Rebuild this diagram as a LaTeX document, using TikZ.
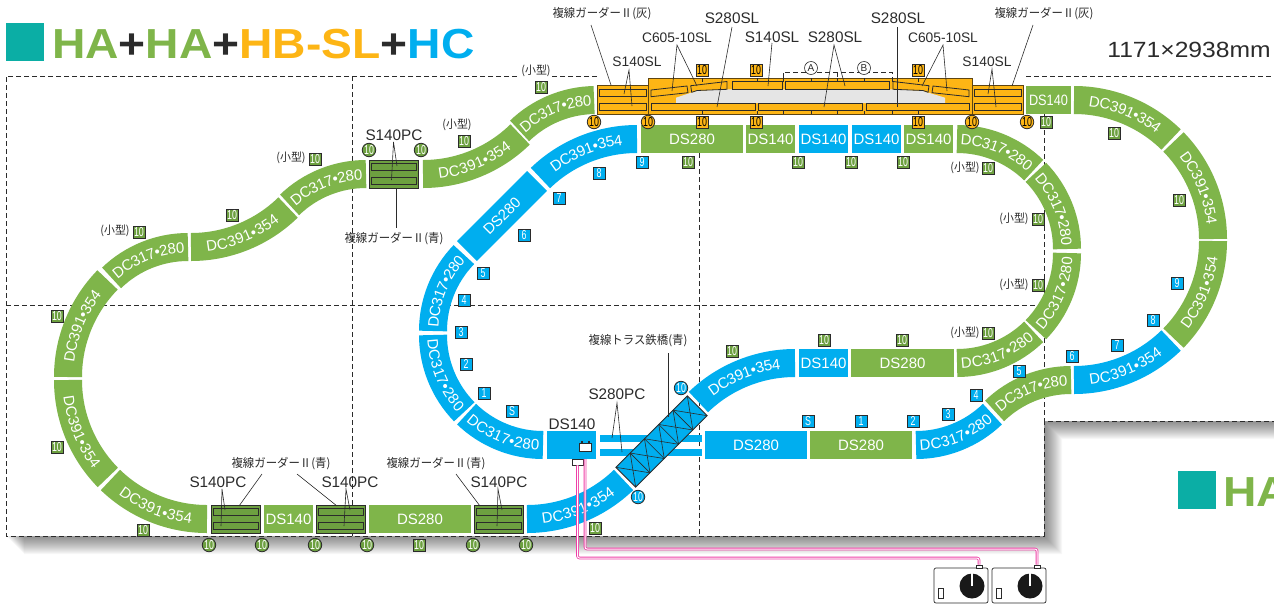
\documentclass[tikz,border=0pt]{standalone}
\usepackage{fontspec}
\setmainfont{Liberation Sans}
\newfontfamily\sizefamily[FakeStretch=1.12]{Liberation Sans}
\newfontfamily\badgefamily[FakeStretch=.68]{Liberation Sans}
\newfontfamily\titlefamily[FakeStretch=1.1]{Liberation Sans}
\newfontfamily\jpfamily[FakeStretch=.95]{Noto Sans CJK JP}
\usetikzlibrary{decorations.text}

\definecolor{trackgreen}{HTML}{7FB54A}
\definecolor{girdergreen}{HTML}{6DA040}
\definecolor{trackblue}{HTML}{00AEEF}
\definecolor{slorange}{HTML}{FDB515}
\definecolor{slbrown}{HTML}{5E4512}
\definecolor{teal}{HTML}{0BAEA5}
\definecolor{wirepink}{HTML}{EE3FA6}
\definecolor{inkgray}{HTML}{2B2B2B}

\newcommand{\trackfont}{\fontsize{15}{15}\selectfont}
\newcommand{\labfont}{\fontsize{15.3}{15.3}\selectfont}
\newcommand{\labsfont}{\fontsize{13.8}{13.8}\selectfont}
\newcommand{\badgefont}{\badgefamily\fontsize{13}{13}\selectfont}
\newcommand{\jpfont}{\jpfamily\fontsize{12}{12}\selectfont}
\newcommand{\titlefont}{\titlefamily\bfseries\fontsize{42}{42}\selectfont}

\tikzstyle{track} = [inner sep=0pt,minimum height=28pt,text=white,font=\trackfont]
\tikzstyle{gtrack} = [track,fill=trackgreen]
\tikzstyle{btrack} = [track,fill=trackblue]
\tikzstyle{pcbox} = [draw=inkgray,line width=.9pt,fill=girdergreen,inner sep=0pt,minimum width=49pt,minimum height=28pt]
\tikzstyle{pcdeck} = [draw=inkgray,line width=.8pt,fill=girdergreen,inner sep=0pt,minimum width=45pt,minimum height=7.5pt]
\tikzstyle{slbox} = [draw=slbrown,line width=.9pt,fill=slorange,inner sep=0pt]
\tikzstyle{sldeck} = [draw=inkgray,line width=.8pt,fill=slorange,inner sep=0pt,minimum height=7.5pt]
\tikzstyle{sqbadge} = [draw=inkgray,line width=.8pt,inner sep=0pt,minimum size=12pt,text=white,font=\badgefont]
\tikzstyle{gsq} = [sqbadge,fill=girdergreen]
\tikzstyle{bsq} = [sqbadge,fill=trackblue]
\tikzstyle{osq} = [sqbadge,fill=slorange,text=black]
\tikzstyle{cirbadge} = [circle,draw=inkgray,line width=.8pt,inner sep=0pt,minimum size=13.5pt,text=white,font=\badgefont]
\tikzstyle{gcir} = [cirbadge,fill=girdergreen]
\tikzstyle{bcir} = [cirbadge,fill=trackblue]
\tikzstyle{ocir} = [cirbadge,fill=slorange,text=black]
\tikzstyle{lab} = [inner sep=0pt,text=inkgray,font=\labfont]
\tikzstyle{labs} = [inner sep=0pt,text=inkgray,font=\labsfont]
\tikzstyle{jplab} = [inner sep=0pt,text=inkgray,font=\jpfont]
\tikzstyle{small} = [inner sep=1pt,fill=white,text=inkgray,font=\jpfamily\fontsize{11.5}{11.5}\selectfont]
\tikzstyle{leader} = [draw=inkgray,line width=.6pt]
\tikzstyle{board} = [draw=inkgray,line width=.9pt,dash pattern=on 5pt off 3pt]
\tikzstyle{wire} = [draw=wirepink,line width=.8pt,double=white,double distance=1pt,rounded corners=2pt]
\tikzstyle{thinbox} = [draw=inkgray,line width=.7pt,fill=white,inner sep=0pt]

\newcommand{\curvetrack}[7]{
	\draw[#1,line width=28pt] ([shift={(#5:#4)}]#2,#3) arc[start angle=#5,end angle=#6,radius=#4];
	\path[decorate,decoration={text along path,text={|\trackfont|#7},text align=center,raise=-5.5pt,text color=white}] ([shift={(#5:#4)}]#2,#3) arc[start angle=#5,end angle=#6,radius=#4];
}

\begin{document}
\begin{tikzpicture}[x=1pt,y=1pt]
	\useasboundingbox (0,0) rectangle (1274,-606);

	\foreach \s in {1,...,18}
		\fill[black,opacity=.032] (6+\s,-76-\s) -- (1300,-76-\s) -- (1300,-421-\s) -- (1044+\s,-421-\s) -- (1044+\s,-536-\s) -- (6+\s,-536-\s) -- cycle;
	\fill[white] (6,-76) -- (1300,-76) -- (1300,-421) -- (1044,-421) -- (1044,-536) -- (6,-536) -- cycle;

	\draw[board] (597,-76) -- (6,-76) -- (6,-536) -- (1044,-536) -- (1044,-421) -- (1274,-421);
	\draw[board] (1026,-76) -- (1274,-76);
	\draw[board] (352,-76) -- (352,-536);
	\draw[board] (699,-153) -- (699,-536);
	\draw[board] (1044,-114) -- (1044,-421);
	\draw[board] (6,-305) -- (1044,-305);

	\node[fill=teal,minimum size=38pt,inner sep=0pt] (sq1) at (25,-42) {};
	\node[anchor=base west,inner sep=0pt,font=\titlefont,text=trackgreen] (title1) at (52,-58) {HA\textcolor{inkgray}{+}HA\textcolor{inkgray}{+}\textcolor{slorange}{HB-SL}\textcolor{inkgray}{+}\textcolor{trackblue}{HC}};
	\node[lab,font=\sizefamily\fontsize{22}{22}\selectfont] (size) at (1189,-50) {1171×2938mm};
	\node[fill=teal,minimum size=38pt,inner sep=0pt] (sq2) at (1197,-490) {};
	\node[anchor=base west,inner sep=0pt,font=\titlefont,text=trackgreen] (title2) at (1223,-506) {HA};

	\curvetrack{trackgreen}{1074}{-239}{139}{90}{45.7}{DC391•354}
	\curvetrack{trackgreen}{1074}{-239}{139}{44.3}{0}{DC391•354}
	\curvetrack{trackgreen}{1074}{-241}{139}{-44.3}{0}{DC391•354}
	\curvetrack{trackblue}{1074}{-241}{139}{-90}{-45.7}{DC391•354}
	\curvetrack{trackgreen}{957}{-249}{110}{90}{45.8}{DC317•280}
	\curvetrack{trackgreen}{957}{-249}{110}{44.2}{0}{DC317•280}
	\curvetrack{trackgreen}{957}{-253}{110}{-44.2}{0}{DC317•280}
	\curvetrack{trackgreen}{957}{-253}{110}{-90}{-45.8}{DC317•280}
	\curvetrack{trackblue}{795}{-502}{139}{134}{90}{DC391•354}
	\curvetrack{trackblue}{527}{-380}{139}{-90}{-46}{DC391•354}
	\curvetrack{trackgreen}{207}{-380}{139}{226}{270}{DC391•354}
	\curvetrack{trackgreen}{207}{-380}{139}{180}{224.5}{DC391•354}
	\curvetrack{trackgreen}{207}{-377}{139}{180}{135.7}{DC391•354}
	\curvetrack{trackgreen}{188}{-357}{110}{134}{90}{DC317•280}
	\curvetrack{trackgreen}{191}{-108}{139}{-90}{-45.7}{DC391•354}
	\curvetrack{trackgreen}{366}{-284}{110}{134}{90}{DC317•280}
	\curvetrack{trackgreen}{423}{-35}{139}{-90}{-45.7}{DC391•354}
	\curvetrack{trackgreen}{596}{-210}{110}{134}{91}{DC317•280}
	\curvetrack{trackblue}{543}{-335}{110}{226}{270}{DC317•280}
	\curvetrack{trackblue}{543}{-335}{110}{180}{224.3}{DC317•280}
	\curvetrack{trackblue}{543}{-331}{110}{180}{136}{DC317•280}
	\curvetrack{trackblue}{637}{-278}{139}{134}{90}{DC391•354}
	\curvetrack{trackblue}{916}{-335}{110}{-90}{-46}{DC317•280}
	\curvetrack{trackgreen}{1071}{-490}{110}{134}{90}{DC317•280}

	\node[btrack,minimum width=99pt,rotate=45] (b6) at (502,-216) {DS280};
	\node[gtrack,minimum width=53pt,xscale=.85] (t1) at (1048.5,-100) {DS140};
	\node[gtrack,minimum width=102pt] (t2) at (692,-139) {DS280};
	\node[gtrack,minimum width=49pt] (t3) at (770.5,-139) {DS140};
	\node[btrack,minimum width=49pt] (t4) at (823.5,-139) {DS140};
	\node[btrack,minimum width=49pt] (t5) at (876.5,-139) {DS140};
	\node[gtrack,minimum width=49pt] (t6) at (928.5,-139) {DS140};
	\node[btrack,minimum width=49pt] (t7) at (823.5,-363) {DS140};
	\node[gtrack,minimum width=103pt] (t8) at (902.5,-363) {DS280};
	\node[btrack,minimum width=49pt] (t9) at (571.5,-445) {};
	\node[btrack,minimum width=102pt] (t10) at (756,-445) {DS280};
	\node[gtrack,minimum width=102pt] (t11) at (861,-445) {DS280};
	\node[gtrack,minimum width=49pt] (t12) at (288.5,-519) {DS140};
	\node[gtrack,minimum width=102pt] (t13) at (420,-519) {DS280};
	\node[lab] (ds) at (572,-424) {DS140};

	\node[pcbox] (g1) at (236,-519) {};
	\node[pcdeck] (g1a) at (236,-512) {};
	\node[pcdeck] (g1b) at (236,-526) {};
	\node[pcbox] (g2) at (341,-519) {};
	\node[pcdeck] (g2a) at (341,-512) {};
	\node[pcdeck] (g2b) at (341,-526) {};
	\node[pcbox] (g3) at (498.5,-519) {};
	\node[pcdeck] (g3a) at (498.5,-512) {};
	\node[pcdeck] (g3b) at (498.5,-526) {};
	\node[pcbox] (g4) at (394,-174) {};
	\node[pcdeck] (g4a) at (394,-167) {};
	\node[pcdeck] (g4b) at (394,-181) {};

	\node[fill=trackblue,inner sep=0pt,minimum width=102pt,minimum height=7pt] (p1) at (651,-438.5) {};
	\node[fill=trackblue,inner sep=0pt,minimum width=102pt,minimum height=7pt] (p2) at (651,-452.5) {};
	\node[draw=inkgray,line width=.9pt,fill=trackblue,inner sep=0pt,minimum width=101pt,minimum height=28pt,rotate=45] (truss) at (661.5,-441.5) {};
	\begin{scope}[shift={(661.5,-441.5)},rotate=45,draw=inkgray,line width=.6pt]
		\draw (-30.3,-14) -- (-30.3,14);
		\draw (-10.1,-14) -- (-10.1,14);
		\draw (10.1,-14) -- (10.1,14);
		\draw (30.3,-14) -- (30.3,14);
		\draw (-50.5,-14) -- (-30.3,14);
		\draw (-50.5,14) -- (-30.3,-14);
		\draw (-30.3,-14) -- (-10.1,14);
		\draw (-30.3,14) -- (-10.1,-14);
		\draw (-10.1,-14) -- (10.1,14);
		\draw (-10.1,14) -- (10.1,-14);
		\draw (10.1,-14) -- (30.3,14);
		\draw (10.1,14) -- (30.3,-14);
		\draw (30.3,-14) -- (50.5,14);
		\draw (30.3,14) -- (50.5,-14);
	\end{scope}

	\node[slbox,minimum width=51pt,minimum height=29pt] (s1) at (622.5,-99.5) {};
	\node[slbox,minimum width=51pt,minimum height=29pt] (s3) at (997.5,-99.5) {};
	\node[slbox,minimum width=324pt,minimum height=36pt] (s2) at (810,-96) {};
	\fill[black!10] (676,-103) -- (676,-97.7) -- (697,-90.7) -- (727,-89.3) -- (892,-89.3) -- (922,-90.7) -- (945,-97.7) -- (945,-103) -- cycle;
	\node[sldeck,minimum width=47pt] (d1) at (622.5,-93) {};
	\node[sldeck,minimum width=47pt] (d2) at (622.5,-107) {};
	\node[sldeck,minimum width=47pt] (d3) at (997.5,-93) {};
	\node[sldeck,minimum width=47pt] (d4) at (997.5,-107) {};
	\node[sldeck,minimum width=104pt] (d5) at (703,-107) {};
	\node[sldeck,minimum width=104pt] (d6) at (810,-107) {};
	\node[sldeck,minimum width=103pt] (d7) at (917.5,-107) {};
	\node[sldeck,minimum width=50pt] (d8) at (757,-85.5) {};
	\node[sldeck,minimum width=104pt] (d9) at (837,-85.5) {};
	\draw[sldeck] (651,-90) -- (687,-86) -- (688,-92.7) -- (651,-96.7) -- cycle;
	\draw[sldeck] (690.7,-85.7) -- (727,-81.5) -- (727,-89.3) -- (697,-90.5) -- (691.7,-92.3) -- cycle;
	\draw[sldeck] (893,-81.5) -- (929,-85.7) -- (928,-92.3) -- (923,-90.5) -- (893,-89.3) -- cycle;
	\draw[sldeck] (933,-86) -- (969,-90) -- (969,-96.7) -- (932,-92.7) -- cycle;
	\draw[inkgray,line width=.7pt] (702,-78) -- (702,-82) (757,-78) -- (757,-82) (783,-78) -- (783,-82) (811,-78) -- (811,-82) (837,-78) -- (837,-82) (864,-78) -- (864,-82) (892,-78) -- (892,-82) (918,-78) -- (918,-82);
	\draw[inkgray,line width=.7pt] (702,-111) -- (702,-114) (757,-111) -- (757,-114) (783,-111) -- (783,-114) (811,-111) -- (811,-114) (837,-111) -- (837,-114) (864,-111) -- (864,-114) (892,-111) -- (892,-114) (918,-111) -- (918,-114);

	\draw[board,line width=.8pt] (783,-78) -- (783,-72) -- (892,-72) -- (892,-78);
	\draw[board,line width=.8pt] (837,-72) -- (837,-78);
	\node[circle,draw=inkgray,line width=.6pt,fill=white,inner sep=0pt,minimum size=13pt,text=inkgray,font=\fontsize{10}{10}\selectfont] (secA) at (811,-68) {A};
	\node[circle,draw=inkgray,line width=.6pt,fill=white,inner sep=0pt,minimum size=13pt,text=inkgray,font=\fontsize{10}{10}\selectfont] (secB) at (864,-68) {B};

	\node[jplab] (gra) at (602,-14) {複線ガーダーⅡ(灰)};
	\node[jplab] (grb) at (1044,-14) {複線ガーダーⅡ(灰)};
	\node[labs] (sl1) at (637,-62) {S140SL};
	\node[lab] (sl2) at (732,-18) {S280SL};
	\node[labs] (sl3) at (677,-38) {C605-10SL};
	\node[lab] (sl4) at (772,-37) {S140SL};
	\node[lab] (sl5) at (835,-37) {S280SL};
	\node[lab] (sl6) at (898,-18) {S280SL};
	\node[labs] (sl7) at (943,-38) {C605-10SL};
	\node[labs] (sl8) at (987,-62) {S140SL};
	\coordinate (gra1) at (591,-25);
	\coordinate (gra2) at (611,-85);
	\coordinate (grb1) at (1033,-25);
	\coordinate (grb2) at (1012,-86);
	\coordinate (sl1t) at (629,-70);
	\coordinate (sl1a) at (624,-94);
	\coordinate (sl1b) at (632,-106);
	\coordinate (sl2t) at (732,-27);
	\coordinate (sl2b) at (717,-107);
	\coordinate (sl3t) at (677,-45);
	\coordinate (sl3a) at (672,-91);
	\coordinate (sl3b) at (697,-86);
	\coordinate (sl4t) at (772,-43);
	\coordinate (sl4b) at (768,-86);
	\coordinate (sl5t) at (834,-45);
	\coordinate (sl5a) at (824,-107);
	\coordinate (sl5b) at (845,-86);
	\coordinate (sl6t) at (897,-27);
	\coordinate (sl6b) at (897,-107);
	\coordinate (sl7t) at (943,-45);
	\coordinate (sl7a) at (922,-86);
	\coordinate (sl7b) at (947,-91);
	\coordinate (sl8t) at (992,-69);
	\coordinate (sl8a) at (988,-94);
	\coordinate (sl8b) at (996,-107);
	\draw[leader] (gra1) -- (gra2);
	\draw[leader] (grb1) -- (grb2);
	\draw[leader] (sl1a) -- (sl1t) -- (sl1b);
	\draw[leader] (sl2t) -- (sl2b);
	\draw[leader] (sl3a) -- (sl3t) -- (sl3b);
	\draw[leader] (sl4t) -- (sl4b);
	\draw[leader] (sl5a) -- (sl5t) -- (sl5b);
	\draw[leader] (sl6t) -- (sl6b);
	\draw[leader] (sl7a) -- (sl7t) -- (sl7b);
	\draw[leader] (sl8a) -- (sl8t) -- (sl8b);

	\node[lab] (pc1) at (394,-135) {S140PC};
	\node[jplab] (grc) at (394,-239) {複線ガーダーⅡ(青)};
	\node[lab] (pc2) at (218,-482) {S140PC};
	\node[lab] (pc3) at (350,-482) {S140PC};
	\node[lab] (pc4) at (499,-482) {S140PC};
	\node[jplab] (grd) at (281,-464) {複線ガーダーⅡ(青)};
	\node[jplab] (gre) at (436,-464) {複線ガーダーⅡ(青)};
	\node[lab] (pc5) at (617,-394) {S280PC};
	\node[jplab] (trs) at (638,-341) {複線トラス鉄橋(青)};
	\coordinate (pc1t) at (393.5,-142);
	\coordinate (pc1a) at (397,-166);
	\coordinate (pc1b) at (391.5,-180);
	\coordinate (grc1) at (396,-188);
	\coordinate (grc2) at (396,-228);
	\coordinate (pc2t) at (222,-489);
	\coordinate (pc2a) at (225,-510);
	\coordinate (pc2b) at (221,-526);
	\coordinate (pc3t) at (346,-489);
	\coordinate (pc3a) at (350,-510);
	\coordinate (pc3b) at (344,-526);
	\coordinate (pc4t) at (498,-489);
	\coordinate (pc4a) at (502,-510);
	\coordinate (pc4b) at (497,-526);
	\coordinate (grd1) at (262,-474);
	\coordinate (grd2) at (239,-506);
	\coordinate (grd3) at (297,-474);
	\coordinate (grd4) at (337,-506);
	\coordinate (gre1) at (456,-474);
	\coordinate (gre2) at (480,-506);
	\coordinate (pc5t) at (617,-403);
	\coordinate (pc5a) at (612,-438);
	\coordinate (pc5b) at (622,-452);
	\coordinate (trs1) at (668,-353);
	\coordinate (trs2) at (668,-417);
	\draw[leader] (pc1a) -- (pc1t) -- (pc1b);
	\draw[leader] (grc1) -- (grc2);
	\draw[leader] (pc2a) -- (pc2t) -- (pc2b);
	\draw[leader] (pc3a) -- (pc3t) -- (pc3b);
	\draw[leader] (pc4a) -- (pc4t) -- (pc4b);
	\draw[leader] (grd1) -- (grd2);
	\draw[leader] (grd3) -- (grd4);
	\draw[leader] (gre1) -- (gre2);
	\draw[leader] (pc5a) -- (pc5t) -- (pc5b);
	\draw[leader] (trs1) -- (trs2);

	\node[small] (k1) at (291,-158) {(小型)};
	\node[small] (k2) at (115,-231) {(小型)};
	\node[small] (k3) at (457,-125) {(小型)};
	\node[small] (k4) at (536,-71) {(小型)};
	\node[small] (k5) at (965,-168) {(小型)};
	\node[small] (k6) at (1014,-219) {(小型)};
	\node[small] (k7) at (1014,-285) {(小型)};
	\node[small] (k8) at (965,-333) {(小型)};

	\node[gsq] (n1) at (315,-159) {10};
	\node[gsq] (n2) at (232,-215) {10};
	\node[gsq] (n3) at (139,-232) {10};
	\node[gsq] (n4) at (57,-316) {10};
	\node[gsq] (n5) at (57,-447) {10};
	\node[gsq] (n6) at (143,-530) {10};
	\node[gsq] (n7) at (419,-545) {10};
	\node[gsq] (n8) at (595,-528) {10};
	\node[gsq] (n9) at (732,-351) {10};
	\node[gsq] (n10) at (824,-340) {10};
	\node[gsq] (n11) at (902,-340) {10};
	\node[gsq] (n12) at (988,-333) {10};
	\node[gsq] (n13) at (464,-141) {10};
	\node[gsq] (n14) at (541,-87) {10};
	\node[gsq] (n15) at (688,-162) {10};
	\node[gsq] (n16) at (798,-162) {10};
	\node[gsq] (n17) at (851,-162) {10};
	\node[gsq] (n18) at (903,-162) {10};
	\node[gsq] (n19) at (988,-168) {10};
	\node[gsq] (n20) at (1046,-122) {10};
	\node[gsq] (n21) at (1114,-133) {10};
	\node[gsq] (n22) at (1179,-200) {10};
	\node[gsq] (n23) at (1038,-219) {10};
	\node[gsq] (n24) at (1038,-285) {10};

	\node[bsq] (m1) at (512,-411) {S};
	\node[bsq] (m2) at (484,-393) {1};
	\node[bsq] (m3) at (466,-364) {2};
	\node[bsq] (m4) at (461,-332) {3};
	\node[bsq] (m5) at (464,-300) {4};
	\node[bsq] (m6) at (483,-273) {5};
	\node[bsq] (m7) at (524,-235) {6};
	\node[bsq] (m8) at (559,-198) {7};
	\node[bsq] (m9) at (599,-173) {8};
	\node[bsq] (m10) at (642,-162) {9};
	\node[bsq] (m11) at (808,-421) {S};
	\node[bsq] (m12) at (861,-421) {1};
	\node[bsq] (m13) at (913,-421) {2};
	\node[bsq] (m14) at (948,-414) {3};
	\node[bsq] (m15) at (976,-395) {4};
	\node[bsq] (m16) at (1019,-371) {5};
	\node[bsq] (m17) at (1072,-356) {6};
	\node[bsq] (m18) at (1117,-345) {7};
	\node[bsq] (m19) at (1153,-320) {8};
	\node[bsq] (m20) at (1177,-283) {9};

	\node[osq] (o1) at (702,-70) {10};
	\node[osq] (o2) at (756,-70) {10};
	\node[osq] (o3) at (918,-70) {10};
	\node[osq] (o4) at (702,-122) {10};
	\node[osq] (o5) at (756,-122) {10};
	\node[osq] (o6) at (918,-122) {10};
	\node[ocir] (c1) at (594,-122) {10};
	\node[ocir] (c2) at (648,-122) {10};
	\node[ocir] (c3) at (972,-122) {10};
	\node[ocir] (c4) at (1027,-122) {10};

	\node[gcir] (c5) at (209,-545) {10};
	\node[gcir] (c6) at (262,-545) {10};
	\node[gcir] (c7) at (315,-545) {10};
	\node[gcir] (c8) at (367,-545) {10};
	\node[gcir] (c9) at (473,-545) {10};
	\node[gcir] (c10) at (526,-545) {10};
	\node[gcir] (c11) at (369,-150) {10};
	\node[gcir] (c12) at (421,-150) {10};
	\node[bcir] (c13) at (681,-388) {10};
	\node[bcir] (c14) at (638,-497) {10};

	\node[thinbox,minimum width=12pt,minimum height=8pt] (bat) at (585,-447.5) {};
	\node[fill=inkgray,inner sep=0pt,minimum width=2pt,minimum height=2.5pt] (bat1) at (581.5,-442) {};
	\node[fill=inkgray,inner sep=0pt,minimum width=2pt,minimum height=2.5pt] (bat2) at (588.5,-442) {};
	\node[thinbox,minimum width=11pt,minimum height=6pt] (plug) at (577.5,-462) {};

	\node[thinbox,rounded corners=2pt,minimum width=54pt,minimum height=35pt] (ctrl1) at (961,-585.5) {};
	\node[thinbox,rounded corners=2pt,minimum width=54pt,minimum height=35pt] (ctrl2) at (1019,-585.5) {};
	\node[thinbox,minimum width=6pt,minimum height=3pt] (cp1) at (979,-566.5) {};
	\node[thinbox,minimum width=6pt,minimum height=3pt] (cp2) at (1037,-566.5) {};
	\node[circle,fill=black!90,inner sep=0pt,minimum size=25pt] (knob1) at (972,-586) {};
	\node[circle,fill=black!90,inner sep=0pt,minimum size=25pt] (knob2) at (1030,-586) {};
	\draw[white,line width=1.3pt] (knob1.center) -- (knob1.north);
	\draw[white,line width=1.3pt] (knob2.center) -- (knob2.north);
	\node[thinbox,minimum width=5pt,minimum height=10pt] (sw1) at (940.5,-593) {};
	\node[thinbox,minimum width=5pt,minimum height=10pt] (sw2) at (998.5,-593) {};

	\coordinate (w1a) at (577.5,-558);
	\coordinate (w1b) at (979,-558);
	\coordinate (w2s) at (585,-459);
	\coordinate (w2a) at (585,-549);
	\coordinate (w2b) at (1037,-549);
	\draw[wire] (plug.south) -- (w1a) -- (w1b) -- (cp1.north);
	\draw[wire] (w2s) -- (w2a) -- (w2b) -- (cp2.north);
\end{tikzpicture}
\end{document}
